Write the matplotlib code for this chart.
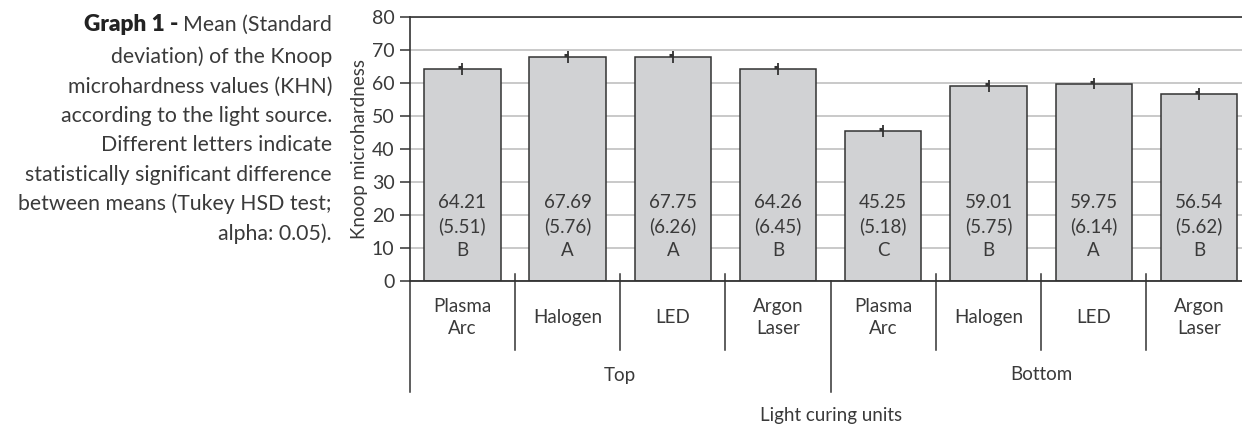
import matplotlib.pyplot as plt

# data
units = ["Plasma\nArc", "Halogen", "LED", "Argon\nLaser",
         "Plasma\nArc", "Halogen", "LED", "Argon\nLaser"]
groups = ["Top", "Bottom"]
means = [64.21, 67.69, 67.75, 64.26, 45.25, 59.01, 59.75, 56.54]
sds = [5.51, 5.76, 6.26, 6.45, 5.18, 5.75, 6.14, 5.62]
letters = ["B", "A", "A", "B", "C", "B", "A", "B"]
err = [1.8, 1.8, 1.8, 1.8, 1.8, 1.8, 1.8, 1.8]
yticks = [0, 10, 20, 30, 40, 50, 60, 70, 80]

caption = ["deviation) of the Knoop",
           "microhardness values (KHN)",
           "according to the light source.",
           "Different letters indicate",
           "statistically significant difference",
           "between means (Tukey HSD test;",
           "alpha: 0.05)."]

FONT = "Lato"
TXT = "#3a3a3a"
DARK = "#333333"
W, H = 1242, 425

plt.rcParams["font.family"] = [FONT, "DejaVu Sans"]

fig = plt.figure(figsize=(W / 100, H / 100), dpi=100)
ax_l, ax_r, ax_t, ax_b = 409.8, 1251.6, 16.7, 280.7
ax = fig.add_axes([ax_l / W, (H - ax_b) / H, (ax_r - ax_l) / W, (ax_b - ax_t) / H])

x = list(range(len(means)))
ax.bar(x, means, width=0.725, color="#d1d2d4", edgecolor=DARK, linewidth=1.1, zorder=3)
ax.errorbar(x, means, yerr=err, fmt="none", ecolor=DARK, elinewidth=1.3, capsize=0, zorder=4)
ax.plot(x, [m + 0.6 for m in means], linestyle="none", marker=0, markersize=3,
        markeredgewidth=2.2, color=DARK, zorder=4)

for xi, m, s, l in zip(x, means, sds, letters):
    ax.text(xi, 16.5, f"{m:.2f}\n({s:.2f})\n{l}", ha="center", va="center",
            fontsize=13.5, color=TXT, linespacing=1.45, zorder=5)

ax.set_xlim(-0.5, 7.5)
ax.set_ylim(0, 80)
ax.set_yticks(yticks)
ax.set_yticklabels([str(v) for v in yticks], fontsize=14, color=TXT)
ax.yaxis.grid(True, color="#c9c9c9", linewidth=1.4, zorder=0)
ax.set_xticks([])
ax.tick_params(axis="y", direction="out", length=7, width=1.1, color=DARK, pad=4)

for side in ["right", "bottom"]:
    ax.spines[side].set_visible(False)
for side in ["left", "top"]:
    ax.spines[side].set_color(DARK)
    ax.spines[side].set_linewidth(1.2)
ax.axhline(0, color=DARK, linewidth=1.3, zorder=6, clip_on=False)

ax.set_ylabel("Knoop microhardness", fontsize=13.5, color=TXT, labelpad=3)

# category axis below the plot
px = 1.0 / (ax_b - ax_t)
trans = ax.get_xaxis_transform()
for b in [0.5, 1.5, 2.5, 4.5, 5.5, 6.5]:
    ax.plot([b, b], [6.5 * px, -69.3 * px], color=DARK, linewidth=1.1,
            transform=trans, clip_on=False)
for b in [-0.5, 3.5, 7.5]:
    ax.plot([b, b], [0, -111.3 * px], color=DARK, linewidth=1.1,
            transform=trans, clip_on=False)
for xi, u in zip(x, units):
    ax.text(xi, -36.6 * px, u, transform=trans, ha="center", va="center",
            fontsize=13.5, color=TXT, linespacing=1.35)
for gi, g in enumerate(groups):
    ax.text(1.5 + 4 * gi, -94.3 * px, g, transform=trans, ha="center", va="center",
            fontsize=13.5, color=TXT)
ax.text(3.5, -134.3 * px, "Light curing units", transform=trans, ha="center",
        va="center", fontsize=13.5, color=TXT)

# caption on the left
cx = 332 / W
fs = 15.3
t1 = fig.text(cx, 1 - 25 / H, "Mean (Standard", ha="right", va="center",
              fontsize=fs, color=TXT)
ax.annotate("Graph 1 - ", xy=(0, 0), xycoords=t1, ha="right", va="bottom",
            fontsize=fs + 1, color="#222222", fontweight="heavy", annotation_clip=False)
for i, line in enumerate(caption):
    fig.text(cx, 1 - (57 + 29.4 * i) / H, line, ha="right", va="center",
             fontsize=fs, color=TXT)

fig.savefig("out.png", dpi=100)
